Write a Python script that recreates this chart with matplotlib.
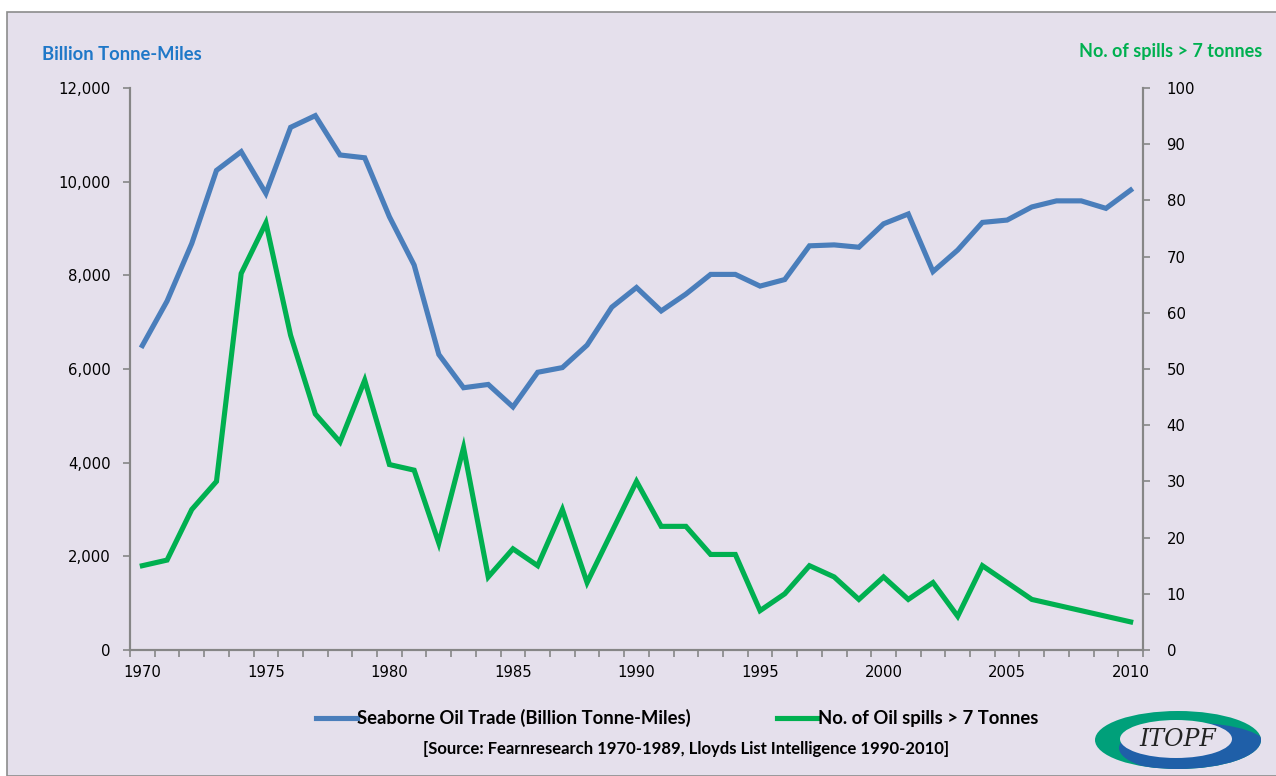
import matplotlib.pyplot as plt
from matplotlib.patches import Rectangle, Ellipse
from matplotlib.lines import Line2D
from matplotlib.ticker import FuncFormatter, MultipleLocator

# Données
years = list(range(1970, 2011))
oil_trade = [6500, 7450, 8680, 10240, 10640, 9750, 11160, 11410, 10570, 10510,
             9250, 8220, 6310, 5600, 5670, 5190, 5930, 6030, 6510, 7320,
             7740, 7240, 7600, 8020, 8020, 7770, 7910, 8630, 8650, 8600,
             9100, 9310, 8080, 8540, 9130, 9180, 9460, 9590, 9590, 9430,
             9820]
spills = [15, 16, 25, 30, 67, 76, 56, 42, 37, 48,
          33, 32, 19, 36, 13, 18, 15, 25, 12, 21,
          30, 22, 22, 17, 17, 7, 10, 15, 13, 9,
          13, 9, 12, 6, 15, 12, 9, 8, 7, 6,
          5]
year_labels = [1970, 1975, 1980, 1985, 1990, 1995, 2000, 2005, 2010]

blue = '#4A7EBB'
green = '#00B050'
bg = '#E5E0EC'
grey = '#868686'
W, H = 1276, 776

fig = plt.figure(figsize=(W / 100, H / 100), dpi=100)
fig.patch.set_facecolor('white')
fig.patches.append(Rectangle((7 / W, 0), 1, 1 - 12 / H, transform=fig.transFigure,
                             facecolor=bg, edgecolor='#8C8C8C', linewidth=1.2, zorder=-5))

ax = fig.add_axes([130 / W, 1 - 650 / H, (1143 - 130) / W, (650 - 88) / H])
ax.set_facecolor('none')
ax2 = ax.twinx()

ax.plot(years, oil_trade, color=blue, lw=3.7, solid_joinstyle='miter')
ax2.plot(years, spills, color=green, lw=3.7, solid_joinstyle='miter')

ax.set_xlim(1969.5, 2010.5)
ax.set_ylim(0, 12000)
ax2.set_ylim(0, 100)

ax.set_xticks(year_labels)
ax.xaxis.set_minor_locator(MultipleLocator(1, offset=0.5))
ax.yaxis.set_major_locator(MultipleLocator(2000))
ax.yaxis.set_major_formatter(FuncFormatter(lambda v, p: f'{int(v):,}'))
ax2.yaxis.set_major_locator(MultipleLocator(10))

for a in (ax, ax2):
    for s in a.spines.values():
        s.set_color(grey)
        s.set_linewidth(1.5)
    a.spines['top'].set_visible(False)
ax.tick_params(axis='x', which='major', length=0, pad=11, labelsize=10.7, colors='black')
ax.tick_params(axis='x', which='minor', length=5, width=1.2, color=grey)
ax.tick_params(axis='y', length=5, width=1.2, color=grey, pad=9, labelsize=10.7)
ax2.tick_params(axis='y', length=5, width=1.2, color=grey, pad=12, labelsize=10.7)

title_font = ['Lato', 'DejaVu Sans']
fig.text(42 / W, 1 - 54 / H, 'Billion Tonne-Miles', color='#1F78C8', fontsize=13.2,
         fontweight='bold', family=title_font, va='center', ha='left')
fig.text(1262 / W, 1 - 52 / H, 'No. of spills > 7 tonnes', color=green, fontsize=13,
         fontweight='bold', family=title_font, va='center', ha='right')

handles = [Line2D([], [], color=blue, lw=3.7), Line2D([], [], color=green, lw=3.7)]
leg = fig.legend(handles, ['Seaborne Oil Trade (Billion Tonne-Miles)', 'No. of Oil spills > 7 Tonnes'],
                 loc='center', bbox_to_anchor=(677 / W, 1 - 718 / H), ncol=2, frameon=False,
                 handlelength=2.2, handletextpad=0.0, columnspacing=4.7,
                 prop={'family': title_font, 'weight': 'bold', 'size': 13.3})
fig.text(686 / W, 1 - 749 / H, '[Source: Fearnresearch 1970-1989, Lloyds List Intelligence 1990-2010]',
         fontsize=12, fontweight='bold', family=title_font, ha='center', va='center')

# Logo ITOPF
lx, ly = 1178 / W, 1 - 740 / H
outer = Ellipse((lx, ly), 166 / W, 58 / H, transform=fig.transFigure, facecolor='#00A07A', edgecolor='none')
fig.patches.append(outer)
blue_part = Ellipse((lx + 16 / W, ly - 8 / H), 150 / W, 50 / H, transform=fig.transFigure,
                    facecolor='#1F5FA8', edgecolor='none')
blue_part.set_clip_path(outer)
fig.patches.append(blue_part)
fig.patches.append(Ellipse((lx - 2 / W, ly + 1 / H), 112 / W, 38 / H, transform=fig.transFigure,
                           facecolor=bg, edgecolor='none'))
fig.text(lx, ly + 1 / H, 'ITOPF', fontsize=17, style='italic', family='DejaVu Serif',
         color='#222222', ha='center', va='center')

fig.savefig('out.png', dpi=100)
